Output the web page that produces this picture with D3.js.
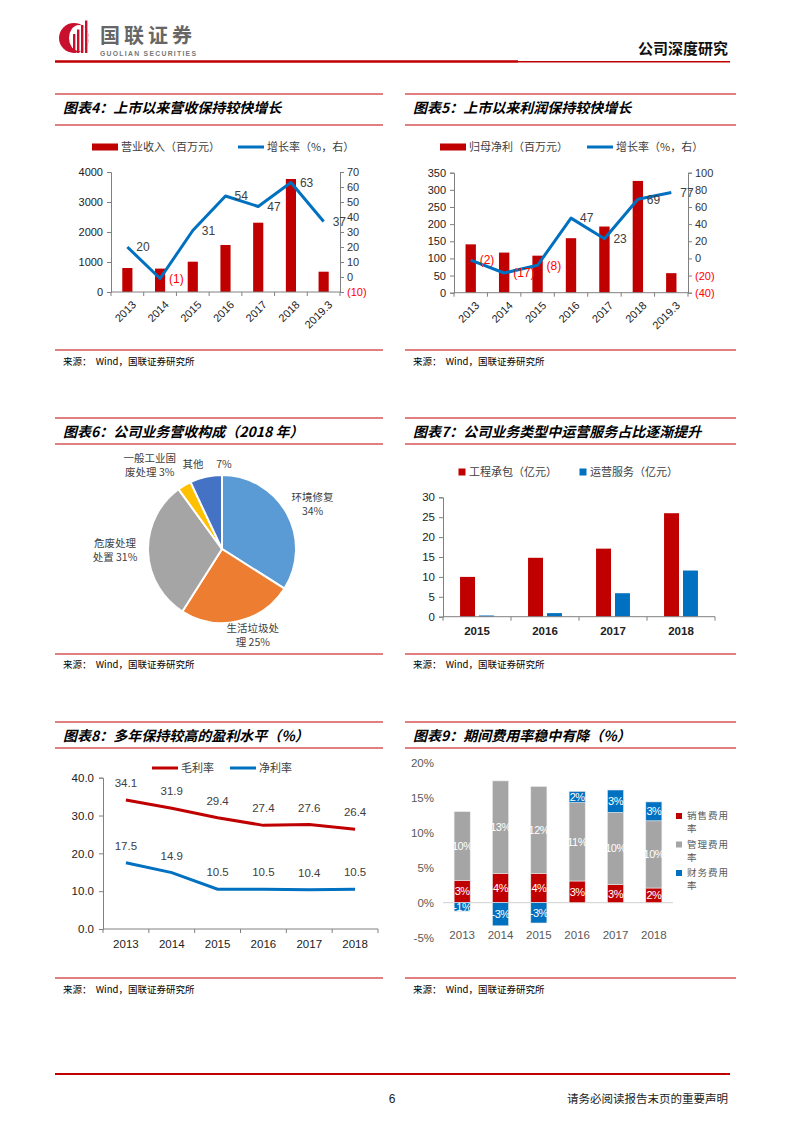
<!DOCTYPE html>
<html>
<head>
<meta charset="utf-8">
<script src="https://cdn.jsdelivr.net/npm/d3@7"></script>
<style>
body{margin:0;background:#fff}
svg text{font-family:"Liberation Sans",Arial,"Noto Sans CJK SC",sans-serif}
.cjk{font-family:"Noto Sans CJK SC",sans-serif !important}
</style>
</head>
<body>
<svg id="page" width="793" height="1122"></svg>
<script>
// ---- data ----
var years7 = ["2013","2014","2015","2016","2017","2018","2019.3"];
var revenue = [800,780,1010,1567,2310,3767,677];
var revenueGrowth = [20,-1,31,54,47,63,37];
var revTicksL = [0,1000,2000,3000,4000];
var revTicksR = [-10,0,10,20,30,40,50,60,70];

var profit = [141,117,108,159,193,326,57];
var profitGrowth = [-2,-17,-8,47,23,69,77];
var profTicksL = [0,50,100,150,200,250,300,350];
var profTicksR = [-40,-20,0,20,40,60,80,100];

var pieNames = ["环境修复","生活垃圾处理","危废处理处置","一般工业固废处理","其他"];
var pieShares = [34,25,31,3,7];
var pieColors = ["#5B9BD5","#ED7D31","#A5A5A5","#FFC000","#4472C4"];
var pieLabelLines = [["环境修复","34%"],["生活垃圾处","理 25%"],["危废处理","处置 31%"],["一般工业固","废处理 3%"],["其他　 7%"]];

var years4 = ["2015","2016","2017","2018"];
var engineering = [10,14.8,17.1,26];
var operation = [0.3,0.9,5.9,11.6];
var opsTicks = [0,5,10,15,20,25,30];

var years6 = ["2013","2014","2015","2016","2017","2018"];
var grossMargin = [34.1,31.9,29.4,27.4,27.6,26.4];
var netMargin = [17.5,14.9,10.5,10.5,10.4,10.5];
var marginTicks = [0,10,20,30,40];

var salesRate = [3.2,4.2,4.2,3.1,2.6,2.1];
var mgmtRate = [9.8,13.2,12.4,11.2,10.3,9.6];
var finRate = [-1.2,-3.3,-2.9,1.6,3.2,2.7];
var feeTicks = [-5,0,5,10,15,20];
var feeNames = ["销售费用率","管理费用率","财务费用率"];

var RED = "#C00000", BLUE = "#0070C0";
var svg = d3.select("#page");
svg.append("rect").attr("width",793).attr("height",1122).attr("fill","#fff");

// ---- header ----
var logo = svg.append("g");
logo.append("circle").attr("cx",74).attr("cy",38).attr("r",15).attr("fill","#C8102E");
logo.append("ellipse").attr("cx",79).attr("cy",38).attr("rx",10).attr("ry",13).attr("fill","#fff");
[0,1,2,3].forEach(function(i){
  logo.append("rect").attr("x",73+i*4).attr("y",34-i*4.5).attr("width",2.4).attr("height",19+i*4.5).attr("fill","#C8102E");
});
svg.append("text").attr("class","cjk").attr("x",100).attr("y",42.5).attr("font-size",20).attr("font-weight",700)
  .attr("fill","#666").attr("letter-spacing",4).text("国联证券");
svg.append("text").attr("x",100).attr("y",55.5).attr("font-size",6.8).attr("font-weight",700).attr("fill","#777")
  .attr("textLength",96).text("GUOLIAN SECURITIES");
svg.append("text").attr("class","cjk").attr("x",728).attr("y",54).attr("text-anchor","end").attr("font-size",15)
  .attr("font-weight",700).attr("fill","#111").text("公司深度研究");
svg.append("line").attr("x1",55).attr("x2",518).attr("y1",61.5).attr("y2",61.5).attr("stroke",RED).attr("stroke-width",2.6);
svg.append("line").attr("x1",518).attr("x2",730).attr("y1",61.8).attr("y2",61.8).attr("stroke",RED).attr("stroke-width",1.4);

// ---- footer ----
svg.append("line").attr("x1",55).attr("x2",730).attr("y1",1074).attr("y2",1074).attr("stroke",RED).attr("stroke-width",2);
svg.append("text").attr("x",392).attr("y",1103).attr("text-anchor","middle").attr("font-size",12).attr("fill","#222").text("6");
svg.append("text").attr("class","cjk").attr("x",728).attr("y",1103).attr("text-anchor","end").attr("font-size",11.5)
  .attr("fill","#222").text("请务必阅读报告末页的重要声明");

// ---- panels ----
function panel(x0,x1,yTop,yTitle,yLine,ySrcLine,ySrc,title){
  svg.append("line").attr("x1",x0).attr("x2",x1).attr("y1",yTop).attr("y2",yTop).attr("stroke",RED).attr("stroke-width",1);
  svg.append("text").attr("class","cjk").attr("x",x0+8).attr("y",yTitle).attr("font-size",14).attr("font-weight",700)
    .attr("font-style","italic").attr("fill","#000").text(title);
  svg.append("line").attr("x1",x0).attr("x2",x1).attr("y1",yLine).attr("y2",yLine).attr("stroke",RED).attr("stroke-width",1);
  svg.append("line").attr("x1",x0).attr("x2",x1).attr("y1",ySrcLine).attr("y2",ySrcLine).attr("stroke",RED).attr("stroke-width",1);
  svg.append("text").attr("class","cjk").attr("x",x0+8).attr("y",ySrc).attr("font-size",9.5).attr("fill","#000")
    .attr("xml:space","preserve").text("来源：  Wind，国联证券研究所");
}
panel(55,383,94,113,125,350,365,"图表4：上市以来营收保持较快增长");
panel(405,736,94,113,125,350,365,"图表5：上市以来利润保持较快增长");
panel(55,383,418,437,444,654,668,"图表6：公司业务营收构成（2018 年）");
panel(405,736,418,437,444,654,668,"图表7：公司业务类型中运营服务占比逐渐提升");
panel(55,383,722,741,748,978,993,"图表8：多年保持较高的盈利水平（%）");
panel(405,736,722,741,748,978,993,"图表9：期间费用率稳中有降（%）");

function fmtNeg(v){ return v < 0 ? "(" + Math.abs(v) + ")" : String(v); }

// ---- bar + line combo charts (fig 4, 5) ----
function combo(opt){
  var g = svg.append("g");
  var x = d3.scaleBand().domain(years7).range([opt.x0,opt.x1]);
  var yl = d3.scaleLinear().domain(opt.domL).range([opt.yb,opt.yt]);
  var yr = d3.scaleLinear().domain(opt.domR).range([opt.yb,opt.yt]);
  var bw = x.bandwidth()*0.31;
  g.selectAll(".bar").data(opt.bars).enter().append("rect")
    .attr("x",function(d,i){ return x(years7[i]) + x.bandwidth()/2 - bw/2; })
    .attr("y",function(d){ return yl(d); })
    .attr("width",bw)
    .attr("height",function(d){ return yl(0) - yl(d); })
    .attr("fill",RED);
  // axes
  var ax = g.append("g").attr("transform","translate("+opt.x0+",0)")
    .call(d3.axisLeft(yl).tickValues(opt.ticksL).tickSize(4).tickPadding(4).tickFormat(d3.format("d")));
  var axr = g.append("g").attr("transform","translate("+opt.x1+",0)")
    .call(d3.axisRight(yr).tickValues(opt.ticksR).tickSize(4).tickPadding(3).tickFormat(fmtNeg));
  [ax,axr].forEach(function(a){
    a.select(".domain").attr("stroke","#808080");
    a.selectAll(".tick line").attr("stroke","#808080");
    a.selectAll("text").attr("font-size",11).attr("fill","#222");
  });
  axr.selectAll("text").attr("fill",function(d){ return d < 0 ? "#FF0000" : "#333"; });
  g.append("line").attr("x1",opt.x0).attr("x2",opt.x1).attr("y1",yl(0)).attr("y2",yl(0)).attr("stroke","#808080");
  g.selectAll(".xt").data(years7.concat(["end"])).enter().append("line")
    .attr("x1",function(d){ return d==="end" ? opt.x1 : x(d); })
    .attr("x2",function(d){ return d==="end" ? opt.x1 : x(d); })
    .attr("y1",yl(0)).attr("y2",yl(0)+4).attr("stroke","#808080");
  g.selectAll(".xl").data(years7).enter().append("text")
    .attr("transform",function(d){ return "translate("+(x(d)+x.bandwidth()/2+4)+","+(yl(0)+8)+") rotate(-45)"; })
    .attr("text-anchor","end").attr("dy","0.7em").attr("font-size",11).attr("fill","#222").text(function(d){ return d; });
  // growth line
  var line = d3.line().x(function(d,i){ return x(years7[i]) + x.bandwidth()/2; }).y(function(d){ return yr(d); });
  g.append("path").datum(opt.line).attr("d",line).attr("fill","none").attr("stroke",BLUE).attr("stroke-width",3)
    .attr("stroke-linejoin","round");
  g.selectAll(".lbl").data(opt.line).enter().append("text")
    .attr("x",function(d,i){ return x(years7[i]) + x.bandwidth()/2 + 9; })
    .attr("y",function(d){ return yr(d); }).attr("dy","0.36em")
    .attr("font-size",12).attr("fill",function(d){ return d < 0 ? "#FF0000" : "#404040"; })
    .text(fmtNeg);
  // legend
  g.append("rect").attr("x",opt.lx).attr("y",opt.ly-3.5).attr("width",26).attr("height",7).attr("fill",RED);
  g.append("text").attr("class","cjk").attr("x",opt.lx+29).attr("y",opt.ly).attr("dy","0.36em").attr("font-size",11)
    .attr("fill","#404040").text(opt.barName);
  g.append("line").attr("x1",opt.lx2).attr("x2",opt.lx2+26).attr("y1",opt.ly).attr("y2",opt.ly).attr("stroke",BLUE).attr("stroke-width",3);
  g.append("text").attr("class","cjk").attr("x",opt.lx2+29).attr("y",opt.ly).attr("dy","0.36em").attr("font-size",11)
    .attr("fill","#404040").text("增长率（%，右）");
}
combo({x0:111,x1:340,yb:292,yt:172,domL:[0,4000],domR:[-10,70],ticksL:revTicksL,ticksR:revTicksR,
  bars:revenue,line:revenueGrowth,barName:"营业收入（百万元）",lx:92,lx2:238,ly:147});
combo({x0:454,x1:688,yb:292.7,yt:172.7,domL:[0,350],domR:[-40,100],ticksL:profTicksL,ticksR:profTicksR,
  bars:profit,line:profitGrowth,barName:"归母净利（百万元）",lx:440,lx2:587,ly:147});

// ---- pie (fig 6) ----
(function(){
  var cx = 222, cy = 549, r = 74;
  // label placement: angle (deg, clockwise from top) and radius
  var labelPos = [[63.7,101],[160.4,92],[269.5,107],[319.4,111],[350,86]];
  var g = svg.append("g").attr("transform","translate("+cx+","+cy+")");
  var pie = d3.pie().sort(null).value(function(d){ return d; });
  var arc = d3.arc().innerRadius(0).outerRadius(r);
  var arcs = pie(pieShares);
  g.selectAll("path").data(arcs).enter().append("path").attr("d",arc)
    .attr("fill",function(d,i){ return pieColors[i]; }).attr("stroke","#fff").attr("stroke-width",2);
  arcs.forEach(function(a,i){
    var m = labelPos[i][0]*Math.PI/180, lr = labelPos[i][1];
    var lx = Math.sin(m)*lr, ly = -Math.cos(m)*lr;
    var lines = pieLabelLines[i];
    var t = g.append("text").attr("class","cjk").attr("text-anchor","middle").attr("font-size",10.5).attr("fill","#404040")
      .attr("xml:space","preserve");
    lines.forEach(function(s,k){
      t.append("tspan").attr("x",lx).attr("y",ly + (k - (lines.length-1)/2)*14).attr("dy","0.36em").text(s);
    });
  });
})();

// ---- grouped bars (fig 7) ----
(function(){
  var g = svg.append("g");
  var x = d3.scaleBand().domain(years4).range([443,715]);
  var sub = d3.scaleBand().domain(["eng","ops"]).range([0,x.bandwidth()]).paddingInner(0.21).paddingOuter(0.9);
  var y = d3.scaleLinear().domain([0,30]).range([616.7,497.3]);
  var series = [{k:"eng",v:engineering,c:RED},{k:"ops",v:operation,c:BLUE}];
  series.forEach(function(s){
    g.selectAll(".b"+s.k).data(s.v).enter().append("rect")
      .attr("x",function(d,i){ return x(years4[i]) + sub(s.k); })
      .attr("y",function(d){ return y(d); }).attr("width",sub.bandwidth())
      .attr("height",function(d){ return y(0) - y(d); }).attr("fill",s.c);
  });
  var ax = g.append("g").attr("transform","translate(443,0)")
    .call(d3.axisLeft(y).tickValues(opsTicks).tickSize(4).tickPadding(4));
  ax.select(".domain").attr("stroke","#808080");
  ax.selectAll(".tick line").attr("stroke","#808080");
  ax.selectAll("text").attr("font-size",11.5).attr("fill","#222");
  g.append("line").attr("x1",443).attr("x2",715).attr("y1",y(0)).attr("y2",y(0)).attr("stroke","#808080");
  g.selectAll(".xt").data(years4.concat(["end"])).enter().append("line")
    .attr("x1",function(d){ return d==="end" ? 715 : x(d); }).attr("x2",function(d){ return d==="end" ? 715 : x(d); })
    .attr("y1",y(0)).attr("y2",y(0)+4).attr("stroke","#808080");
  g.selectAll(".xl").data(years4).enter().append("text")
    .attr("x",function(d){ return x(d) + x.bandwidth()/2; }).attr("y",y(0)+18)
    .attr("text-anchor","middle").attr("font-size",11.5).attr("font-weight",700).attr("fill","#222").text(function(d){ return d; });
  // legend
  [["工程承包（亿元）",RED,462],["运营服务（亿元）",BLUE,583]].forEach(function(l){
    g.append("rect").attr("x",l[2]-3.5).attr("y",472-3.5).attr("width",7).attr("height",7).attr("fill",l[1]);
    g.append("text").attr("class","cjk").attr("x",l[2]+7).attr("y",472).attr("dy","0.36em").attr("font-size",11)
      .attr("fill","#404040").text(l[0]);
  });
})();

// ---- margins line chart (fig 8) ----
(function(){
  var g = svg.append("g");
  var x = d3.scaleBand().domain(years6).range([103,378]);
  var y = d3.scaleLinear().domain([0,40]).range([929,777.7]);
  var ax = g.append("g").attr("transform","translate(103,0)")
    .call(d3.axisLeft(y).tickValues(marginTicks).tickSize(4).tickPadding(5).tickFormat(d3.format(".1f")));
  ax.select(".domain").attr("stroke","#808080");
  ax.selectAll(".tick line").attr("stroke","#808080");
  ax.selectAll("text").attr("font-size",11.5).attr("fill","#222");
  g.append("line").attr("x1",103).attr("x2",378).attr("y1",y(0)).attr("y2",y(0)).attr("stroke","#808080");
  g.selectAll(".xt").data(years6.concat(["end"])).enter().append("line")
    .attr("x1",function(d){ return d==="end" ? 378 : x(d); }).attr("x2",function(d){ return d==="end" ? 378 : x(d); })
    .attr("y1",y(0)).attr("y2",y(0)+4).attr("stroke","#808080");
  g.selectAll(".xl").data(years6).enter().append("text")
    .attr("x",function(d){ return x(d) + x.bandwidth()/2; }).attr("y",y(0)+19)
    .attr("text-anchor","middle").attr("font-size",11.5).attr("fill","#222").text(function(d){ return d; });
  var line = d3.line().x(function(d,i){ return x(years6[i]) + x.bandwidth()/2; }).y(function(d){ return y(d); });
  [[grossMargin,RED],[netMargin,BLUE]].forEach(function(s){
    g.append("path").datum(s[0]).attr("d",line).attr("fill","none").attr("stroke",s[1]).attr("stroke-width",3);
    g.selectAll(null).data(s[0]).enter().append("text")
      .attr("x",function(d,i){ return x(years6[i]) + x.bandwidth()/2; })
      .attr("y",function(d){ return y(d) - 13; })
      .attr("text-anchor","middle").attr("font-size",11.5).attr("fill","#404040").text(d3.format(".1f"));
  });
  [["毛利率",RED,152],["净利率",BLUE,230]].forEach(function(l){
    g.append("line").attr("x1",l[2]).attr("x2",l[2]+26).attr("y1",768).attr("y2",768).attr("stroke",l[1]).attr("stroke-width",3);
    g.append("text").attr("class","cjk").attr("x",l[2]+29).attr("y",768).attr("dy","0.36em").attr("font-size",11)
      .attr("fill","#404040").text(l[0]);
  });
})();

// ---- stacked fee rates (fig 9) ----
(function(){
  var g = svg.append("g");
  var rows = years6.map(function(yr,i){ return {year:yr, s:salesRate[i], m:mgmtRate[i], f:finRate[i]}; });
  var keys = ["s","m","f"], cols = {s:RED, m:"#A5A5A5", f:BLUE};
  var stack = d3.stack().keys(keys).offset(d3.stackOffsetDiverging)(rows);
  var x = d3.scaleBand().domain(years6).range([443,673]).paddingInner(0.58).paddingOuter(0.29);
  var y = d3.scaleLinear().domain([-5,20]).range([937.7,762.7]);
  g.selectAll(".yl").data(feeTicks).enter().append("text")
    .attr("x",434).attr("y",function(d){ return y(d); }).attr("dy","0.36em").attr("text-anchor","end")
    .attr("font-size",11.5).attr("fill","#595959").text(function(d){ return d + "%"; });
  g.append("line").attr("x1",443).attr("x2",673).attr("y1",y(0)).attr("y2",y(0)).attr("stroke","#D9D9D9").attr("stroke-width",1.2);
  stack.forEach(function(layer){
    g.selectAll(null).data(layer).enter().append("rect")
      .attr("x",function(d){ return x(d.data.year); }).attr("width",x.bandwidth())
      .attr("y",function(d){ return y(Math.max(d[0],d[1])); })
      .attr("height",function(d){ return Math.abs(y(d[0]) - y(d[1])); })
      .attr("fill",cols[layer.key]).attr("stroke","#e8e8e8").attr("stroke-width",0.6);
  });
  stack.forEach(function(layer){
    g.selectAll(null).data(layer).enter().append("text")
      .attr("x",function(d){ return x(d.data.year) + x.bandwidth()/2; })
      .attr("y",function(d){ return y((d[0]+d[1])/2); }).attr("dy","0.36em")
      .attr("text-anchor","middle").attr("font-size",11).attr("letter-spacing",-0.5).attr("fill","#fff")
      .text(function(d){ return Math.round(d.data[layer.key]) + "%"; });
  });
  g.selectAll(".xl").data(years6).enter().append("text")
    .attr("x",function(d){ return x(d) + x.bandwidth()/2; }).attr("y",939)
    .attr("text-anchor","middle").attr("font-size",11.5).attr("fill","#595959").text(function(d){ return d; });
  feeNames.forEach(function(n,i){
    var ly = 816 + i*28.5;
    g.append("rect").attr("x",676).attr("y",ly-3).attr("width",6).attr("height",6).attr("fill",cols[keys[i]]);
    var t = g.append("text").attr("class","cjk").attr("font-size",9.5).attr("fill","#595959");
    t.append("tspan").attr("x",687).attr("y",ly).attr("dy","0.36em").attr("letter-spacing",1).text(n.slice(0,4));
    t.append("tspan").attr("x",687).attr("y",ly+13).attr("dy","0.36em").text(n.slice(4));
  });
})();
</script>
</body>
</html>
